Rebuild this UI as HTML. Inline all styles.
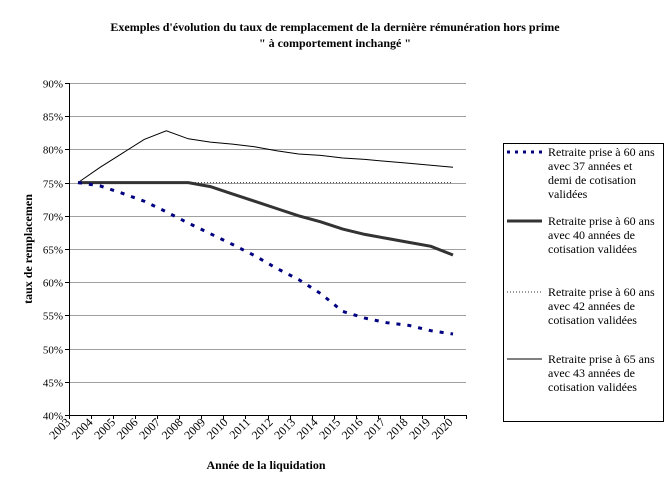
<!DOCTYPE html>
<html><head><meta charset="utf-8"><style>
body{margin:0;background:#fff;}
svg text{font-family:"Liberation Serif",serif;}
</style></head><body>
<svg width="670" height="490" viewBox="0 0 670 490">
<text x="335" y="31" text-anchor="middle" font-size="12" font-weight="bold">Exemples d'évolution du taux de remplacement de la dernière rémunération hors prime</text>
<text x="335" y="47" text-anchor="middle" font-size="12" font-weight="bold">" à comportement inchangé "</text>
<g id="grid"></g>
<g id="axes"></g>
<g id="series"></g>
<text transform="translate(32,249) rotate(-90)" text-anchor="middle" font-size="12" font-weight="bold">taux de remplacemen</text>
<text x="266" y="469" text-anchor="middle" font-size="12" font-weight="bold">Année de la liquidation</text>
<g>
<rect x="503.5" y="143.5" width="160" height="278" fill="#fff" stroke="#000"/>
<line x1="507" y1="152" x2="542" y2="152" stroke="#000080" stroke-width="3" stroke-dasharray="3,5"/>
<line x1="507" y1="221" x2="542" y2="221" stroke="#333" stroke-width="3"/>
<line x1="507" y1="292" x2="542" y2="292" stroke="#333" stroke-width="1" stroke-dasharray="1,2"/>
<line x1="507" y1="359" x2="542" y2="359" stroke="#000" stroke-width="1"/>
<g font-size="12">
<text x="548" y="156">Retraite prise à 60 ans</text>
<text x="548" y="170">avec 37 années et</text>
<text x="548" y="184">demi de cotisation</text>
<text x="548" y="198">validées</text>
<text x="548" y="225">Retraite prise à 60 ans</text>
<text x="548" y="239">avec 40 années de</text>
<text x="548" y="253">cotisation validées</text>
<text x="548" y="296">Retraite prise à 60 ans</text>
<text x="548" y="310">avec 42 années de</text>
<text x="548" y="324">cotisation validées</text>
<text x="548" y="363">Retraite prise à 65 ans</text>
<text x="548" y="377">avec 43 années de</text>
<text x="548" y="391">cotisation validées</text>
</g></g>
</svg>
<script>
const years=["2003","2004","2005","2006","2007","2008","2009","2010","2011","2012","2013","2014","2015","2016","2017","2018","2019","2020"];
const yTicks=[40,45,50,55,60,65,70,75,80,85,90];
const s375=[75,74.5,73.4,72.2,70.6,68.9,67.3,65.7,64.0,62.1,60.4,58.3,55.6,54.6,53.9,53.5,52.7,52.2];
const s40=[75,75,75,75,75,75,74.4,73.3,72.2,71.1,70.0,69.1,68.0,67.2,66.6,66.0,65.4,64.1];
const s42=[75,75,75,75,75,75,75,75,75,75,75,75,75,75,75,75,75,75];
const s65=[75,77.3,79.4,81.5,82.8,81.6,81.1,80.8,80.4,79.8,79.3,79.1,78.7,78.5,78.2,77.9,77.6,77.3];
const NS="http://www.w3.org/2000/svg";
const L=69,R=466,T=83,B=415;
const bw=(R-L)/years.length;
const X=i=>L-2+bw*(i+0.5);
const Y=v=>B-(v-40)/50*(B-T);
function mk(tag,attrs,parent){const e=document.createElementNS(NS,tag);for(const k in attrs)e.setAttribute(k,attrs[k]);document.getElementById(parent).appendChild(e);return e;}
yTicks.forEach(v=>{
 const y=Math.round(Y(v))+0.5;
 const g=mk('line',{x1:L,x2:R,y1:y,y2:y,stroke:'#a0a0a0'},'grid');
 
 
 mk('line',{x1:L-4,x2:L,y1:y,y2:y,stroke:'#000'},'axes');
 const t=mk('text',{x:L-6,y:y+4,'text-anchor':'end','font-size':'11','font-family':'Liberation Sans, sans-serif'},'axes');
 t.textContent=v+'%';
 
 
});
mk('line',{x1:L+0.5,x2:L+0.5,y1:T,y2:B,stroke:'#000'},'axes');
mk('line',{x1:L,x2:R,y1:B+0.5,y2:B+0.5,stroke:'#000'},'axes');
for(let i=0;i<=years.length;i++){const x=Math.round(L+bw*i)+0.5;mk('line',{x1:x,x2:x,y1:B,y2:B+4,stroke:'#000'},'axes');}
years.forEach((yr,i)=>{
 const x=L+2+bw*i*1.02,y=B+8;
 const t=mk('text',{x:x,y:y,'text-anchor':'end','font-size':'12','font-family':'Liberation Sans, sans-serif',transform:`rotate(-45 ${x} ${y})`},'axes');
 t.textContent=yr;
 
 
});
function line(data,name,attrs){
 const d=data.map((v,i)=>(i?'L':'M')+X(i).toFixed(1)+','+Y(v).toFixed(1)).join(' ');
 const p=mk('path',Object.assign({d:d,fill:'none'},attrs),'series');
 
 
}
line(s65,'series-65-ans-43',{stroke:'#000','stroke-width':1});
line(s42,'series-60-ans-42',{stroke:'#333','stroke-width':1,'stroke-dasharray':'1,2'});
line(s40,'series-60-ans-40',{stroke:'#333','stroke-width':3});
line(s375,'series-60-ans-37-5',{stroke:'#000080','stroke-width':3,'stroke-dasharray':'4,7'});
</script>
</body></html>
